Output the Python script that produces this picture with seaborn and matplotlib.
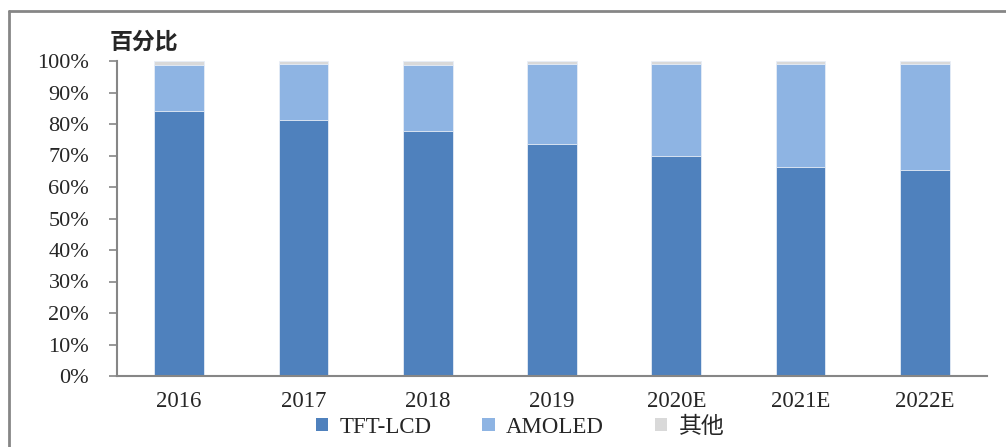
import matplotlib
matplotlib.use("Agg")
import matplotlib.pyplot as plt
import seaborn as sns
import numpy as np
import pandas as pd
from matplotlib.patches import Patch
from matplotlib.lines import Line2D

years = ["2016", "2017", "2018", "2019", "2020E", "2021E", "2022E"]
tft_lcd = [84.0, 81.3, 77.8, 73.8, 69.9, 66.5, 65.3]
amoled = [14.7, 17.7, 20.9, 25.3, 29.3, 32.6, 33.8]
other = [1.3, 1.0, 1.3, 0.9, 0.8, 0.9, 0.9]
series_names = ["TFT-LCD", "AMOLED", "其他"]
colors = ["#4F81BD", "#8EB4E3", "#D9D9D9"]

sns.set_theme(style="white")
plt.rcParams['font.family'] = ['Liberation Serif', 'Noto Sans CJK SC', 'DejaVu Sans']

df = pd.DataFrame({"year": years, "tft": tft_lcd, "amoled": amoled, "other": other})
df["c1"] = df["tft"]
df["c2"] = df["tft"] + df["amoled"]
df["c3"] = df["c2"] + df["other"]

fig = plt.figure(figsize=(10.06, 4.47), dpi=100)
ax = fig.add_axes([117/1006, 1-376/447, (987-117)/1006, (376-61)/447])

for col, c in zip(["c3", "c2", "c1"], colors[::-1]):
    sns.barplot(data=df, x="year", y=col, color=c, width=0.4, ax=ax,
                edgecolor="#E8EEF7", linewidth=0.6, saturation=1)

ax.set_xlim(-0.5, 6.5)
ax.set_ylim(0, 100)
ax.set_yticks(np.arange(0, 101, 10))
ax.set_yticklabels([f"{v}%" for v in range(0, 101, 10)], fontsize=16)
ax.set_xticks(range(len(years)))
ax.set_xticklabels(years, fontsize=16.5)
ax.set_xticks(np.arange(-0.5, 7, 1), minor=True)
ax.tick_params(axis="x", which="major", length=0, pad=11)
ax.tick_params(axis="x", which="minor", length=6, width=1.2, color="#868686", direction="out")
ax.tick_params(axis="y", length=6, width=1.2, color="#868686", direction="out", pad=14, left=True)
ax.set_xlabel("")
ax.set_ylabel("")
for s in ["top", "right"]:
    ax.spines[s].set_visible(False)
for s in ["left", "bottom"]:
    ax.spines[s].set_color("#868686")
    ax.spines[s].set_linewidth(1.5)

fig.text(110/1006, 1-42/447, "百分比", fontsize=16.5, fontweight="bold",
         family=['Noto Sans CJK SC'], va="center", ha="left")

handles = [Patch(facecolor=c, edgecolor="none") for c in colors]
leg = fig.legend(handles, series_names, loc="center", bbox_to_anchor=(520/1006, 1-427/447),
                 ncol=3, frameon=False, fontsize=16.5, handlelength=0.55, handleheight=0.55,
                 handletextpad=0.5, columnspacing=2.2)

# outer frame lines (left and top)
fig.add_artist(Line2D([9/1006, 9/1006], [0, 1-11/447], color="#868686", lw=2, transform=fig.transFigure))
fig.add_artist(Line2D([9/1006, 1], [1-11/447, 1-11/447], color="#868686", lw=2, transform=fig.transFigure))

fig.savefig("out.png", dpi=100)
